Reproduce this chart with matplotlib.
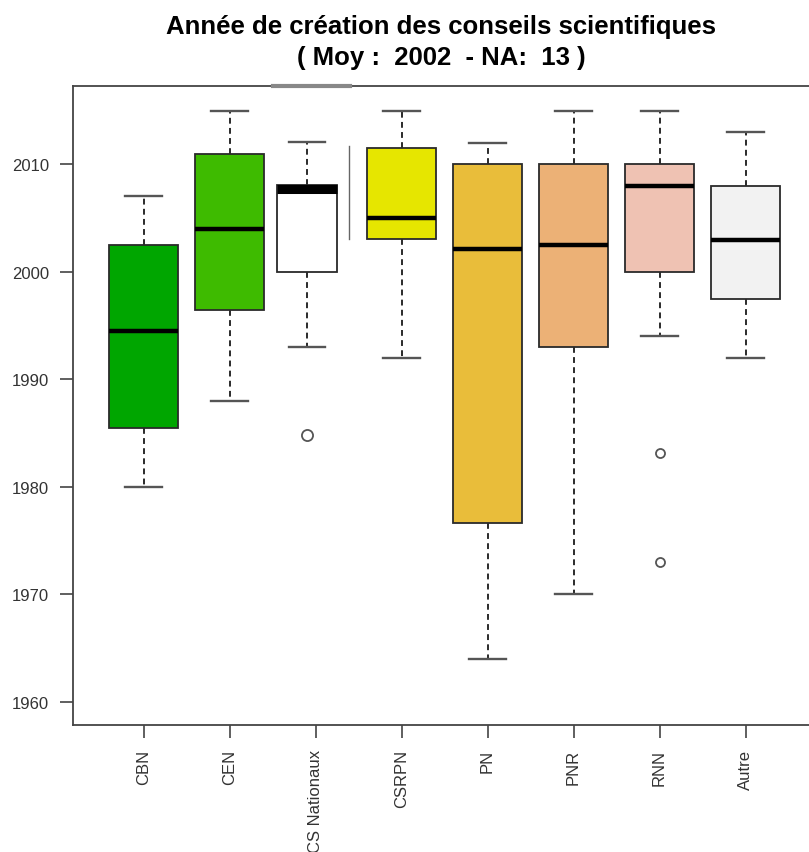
import numpy as np
import matplotlib.pyplot as plt

plt.rcParams['font.family'] = ['Liberation Sans', 'DejaVu Sans']

# box statistics (years)
groups = ['CBN', 'CEN', 'CS Nationaux', 'CSRPN', 'PN', 'PNR', 'RNN', 'Autre']
whis_lo = [1980, 1988, 1993, 1992, 1964, 1970, 1994, 1992]
q1 = [1985.5, 1996.5, 2000, 2003.1, 1976.6, 1993, 2000, 1997.5]
med = [1994.5, 2004, 2007.7, 2005, 2002.1, 2002.5, 2008, 2003]
q3 = [2002.5, 2011, 2008.1, 2011.5, 2010, 2010, 2010, 2008]
whis_hi = [2007.1, 2015, 2012.1, 2015, 2012, 2015, 2015, 2013]
outliers = [[], [], [1984.8], [], [], [], [1983.1, 1973], []]
colors = ['#00A600', '#3EBB00', '#FFFFFF', '#E6E600',
          '#E9BD3A', '#ECB176', '#EFC2B3', '#F2F2F2']

moy = 2002
na = 13

stats = []
for i in range(len(groups)):
    stats.append(dict(med=med[i], q1=q1[i], q3=q3[i],
                      whislo=whis_lo[i], whishi=whis_hi[i],
                      fliers=outliers[i], label=groups[i]))

ticks = np.arange(1, len(groups) + 1)
pos = ticks.astype(float)
pos[2] = 2.9  # this box sits a little left of its tick in the original
widths = [0.8] * len(groups)
widths[2] = 0.7

fig = plt.figure(figsize=(8.09, 8.53), dpi=100)
ax = fig.add_axes([73 / 809, 1 - 726 / 853, 1 - 73 / 809, (726 - 86.7) / 853])

edge = '#2a2a2a'
bp = ax.bxp(stats, positions=pos, widths=widths, capwidths=0.42,
            patch_artist=True, manage_ticks=False,
            boxprops=dict(edgecolor=edge, linewidth=1.3),
            medianprops=dict(color='black', linewidth=3.2, solid_capstyle='butt'),
            whiskerprops=dict(color=edge, linewidth=1.4, linestyle=(0, (3, 2.2))),
            capprops=dict(color='#555555', linewidth=1.7),
            flierprops=dict(marker='o', markersize=6.5, markerfacecolor='none',
                            markeredgecolor='#555555', markeredgewidth=1.3))

for patch, c in zip(bp['boxes'], colors):
    patch.set_facecolor(c)
bp['medians'][2].set_linewidth(6.5)
bp['fliers'][2].set_markersize(8)

# stray marks present in the original image
ax.plot([3.39, 3.39], [2011.7, 2003.1], color='#666666', lw=1)
ax.plot([2.51, 3.40], [2017.33, 2017.33], color='#888888', lw=3, clip_on=False, zorder=5)

ax.set_xlim(0.18, 8.738)
ax.set_ylim(1957.83, 2017.33)
ax.set_yticks([1960, 1970, 1980, 1990, 2000, 2010])
ax.set_xticks(ticks)
ax.set_xticklabels(groups, rotation=90, va='top')
ax.tick_params(axis='both', length=9.4, width=1.2, color='#444444',
               labelsize=12, labelcolor='#333333', pad=8)

for s in ['left', 'top', 'bottom']:
    ax.spines[s].set_color('#444444')
    ax.spines[s].set_linewidth(1.3)
ax.spines['right'].set_visible(False)

fig.text(441 / 809, 1 - 27 / 853, 'Année de création des conseils scientifiques',
         ha='center', va='center', fontsize=18.5, fontweight='bold')
fig.text(441 / 809, 1 - 58 / 853, '( Moy :  %d  - NA:  %d )' % (moy, na),
         ha='center', va='center', fontsize=18.5, fontweight='bold')

fig.savefig('out.png', dpi=100)
